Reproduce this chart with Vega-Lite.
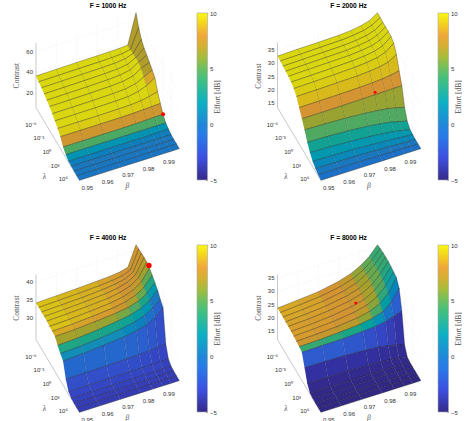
{"$schema":"https://vega.github.io/schema/vega-lite/v6.json","padding":{"left":0,"top":3,"right":0,"bottom":0},"background":"white","config":{"view":{"stroke":null},"text":{"font":"Liberation Sans","fontSize":6,"fill":"#333"},"title":{"font":"Liberation Sans","fontSize":6.7,"fontWeight":"bold","color":"#000","offset":2},"range":{"ramp":["#2f2577","#3330a2","#3546c5","#2e5bce","#256bcc","#1c78be","#128db7","#0b9bac","#12a294","#38a871","#5fa955","#90a535","#b99b2a","#d39431","#d7b71c","#dada0e"]},"axis":{"labelFont":"Liberation Sans","labelFontSize":6,"labelColor":"#333","titleFont":"Liberation Serif","titleFontSize":7.5,"titleFontWeight":"normal","titleColor":"#555","domain":false,"grid":false,"tickColor":"#666","tickSize":-2,"tickWidth":0.5,"labelPadding":4,"titleAngle":-90,"titlePadding":5}},
"data":{"values":[
{"F":1000,"b":0.95,"l":-10,"c":36.6,"e":9.9},{"F":1000,"b":0.96,"l":-10,"c":36.9,"e":9.9},{"F":1000,"b":0.97,"l":-10,"c":37.2,"e":9.9},{"F":1000,"b":0.98,"l":-10,"c":37.4,"e":9.9},{"F":1000,"b":0.986,"l":-10,"c":37.6,"e":9.9},{"F":1000,"b":0.991,"l":-10,"c":37.8,"e":9.9},{"F":1000,"b":0.995,"l":-10,"c":38.4,"e":6.8},{"F":1000,"b":0.999,"l":-10,"c":67,"e":6.8},
{"F":1000,"b":0.95,"l":-9,"c":35.3,"e":9.9},{"F":1000,"b":0.96,"l":-9,"c":35.5,"e":9.9},{"F":1000,"b":0.97,"l":-9,"c":35.8,"e":9.9},{"F":1000,"b":0.98,"l":-9,"c":36,"e":9.9},{"F":1000,"b":0.986,"l":-9,"c":36.3,"e":9.9},{"F":1000,"b":0.991,"l":-9,"c":37,"e":9.9},{"F":1000,"b":0.995,"l":-9,"c":38.5,"e":6.8},{"F":1000,"b":0.999,"l":-9,"c":57,"e":6.8},
{"F":1000,"b":0.95,"l":-8,"c":34,"e":9.9},{"F":1000,"b":0.96,"l":-8,"c":34.2,"e":9.9},{"F":1000,"b":0.97,"l":-8,"c":34.5,"e":9.9},{"F":1000,"b":0.98,"l":-8,"c":34.8,"e":9.9},{"F":1000,"b":0.986,"l":-8,"c":35.2,"e":9.9},{"F":1000,"b":0.991,"l":-8,"c":36.3,"e":9.9},{"F":1000,"b":0.995,"l":-8,"c":39,"e":6.8},{"F":1000,"b":0.999,"l":-8,"c":50,"e":6.8},
{"F":1000,"b":0.95,"l":-7,"c":32.5,"e":9.9},{"F":1000,"b":0.96,"l":-7,"c":32.7,"e":9.9},{"F":1000,"b":0.97,"l":-7,"c":33,"e":9.9},{"F":1000,"b":0.98,"l":-7,"c":33.4,"e":9.9},{"F":1000,"b":0.986,"l":-7,"c":34,"e":9.9},{"F":1000,"b":0.991,"l":-7,"c":35.5,"e":9.9},{"F":1000,"b":0.995,"l":-7,"c":39.5,"e":6.8},{"F":1000,"b":0.999,"l":-7,"c":46,"e":6.8},
{"F":1000,"b":0.95,"l":-6,"c":30.8,"e":9.9},{"F":1000,"b":0.96,"l":-6,"c":31,"e":9.9},{"F":1000,"b":0.97,"l":-6,"c":31.3,"e":9.9},{"F":1000,"b":0.98,"l":-6,"c":31.8,"e":9.9},{"F":1000,"b":0.986,"l":-6,"c":32.6,"e":9.9},{"F":1000,"b":0.991,"l":-6,"c":34.5,"e":9.9},{"F":1000,"b":0.995,"l":-6,"c":39.5,"e":6.8},{"F":1000,"b":0.999,"l":-6,"c":43.5,"e":6.8},
{"F":1000,"b":0.95,"l":-5,"c":29,"e":9.9},{"F":1000,"b":0.96,"l":-5,"c":29.2,"e":9.9},{"F":1000,"b":0.97,"l":-5,"c":29.5,"e":9.9},{"F":1000,"b":0.98,"l":-5,"c":30,"e":9.9},{"F":1000,"b":0.986,"l":-5,"c":30.8,"e":9.9},{"F":1000,"b":0.991,"l":-5,"c":33,"e":9.9},{"F":1000,"b":0.995,"l":-5,"c":38,"e":6.8},{"F":1000,"b":0.999,"l":-5,"c":41,"e":6.8},
{"F":1000,"b":0.95,"l":-4,"c":26.5,"e":9.9},{"F":1000,"b":0.96,"l":-4,"c":26.6,"e":9.9},{"F":1000,"b":0.97,"l":-4,"c":26.8,"e":9.9},{"F":1000,"b":0.98,"l":-4,"c":27.3,"e":9.9},{"F":1000,"b":0.986,"l":-4,"c":28,"e":9.9},{"F":1000,"b":0.991,"l":-4,"c":30,"e":9.9},{"F":1000,"b":0.995,"l":-4,"c":34,"e":8.5},{"F":1000,"b":0.999,"l":-4,"c":38,"e":8.5},
{"F":1000,"b":0.95,"l":-3,"c":24,"e":9.9},{"F":1000,"b":0.96,"l":-3,"c":24.1,"e":9.9},{"F":1000,"b":0.97,"l":-3,"c":24.2,"e":9.9},{"F":1000,"b":0.98,"l":-3,"c":24.5,"e":9.9},{"F":1000,"b":0.986,"l":-3,"c":25,"e":9.9},{"F":1000,"b":0.991,"l":-3,"c":27,"e":9.9},{"F":1000,"b":0.995,"l":-3,"c":30,"e":9.5},{"F":1000,"b":0.999,"l":-3,"c":35,"e":9.5},
{"F":1000,"b":0.95,"l":-2,"c":21,"e":9.6},{"F":1000,"b":0.96,"l":-2,"c":21,"e":9.6},{"F":1000,"b":0.97,"l":-2,"c":21,"e":9.6},{"F":1000,"b":0.98,"l":-2,"c":21.2,"e":9.6},{"F":1000,"b":0.986,"l":-2,"c":21.5,"e":9.6},{"F":1000,"b":0.991,"l":-2,"c":22.5,"e":9.6},{"F":1000,"b":0.995,"l":-2,"c":24,"e":9.6},{"F":1000,"b":0.999,"l":-2,"c":26,"e":9.6},
{"F":1000,"b":0.95,"l":-1,"c":17.5,"e":7.8},{"F":1000,"b":0.96,"l":-1,"c":17.5,"e":7.8},{"F":1000,"b":0.97,"l":-1,"c":17.5,"e":7.8},{"F":1000,"b":0.98,"l":-1,"c":17.6,"e":7.8},{"F":1000,"b":0.986,"l":-1,"c":17.8,"e":7.8},{"F":1000,"b":0.991,"l":-1,"c":18.2,"e":7.8},{"F":1000,"b":0.995,"l":-1,"c":18.6,"e":7.8},{"F":1000,"b":0.999,"l":-1,"c":19,"e":7.8},
{"F":1000,"b":0.95,"l":0,"c":12,"e":4.5},{"F":1000,"b":0.96,"l":0,"c":12,"e":4.5},{"F":1000,"b":0.97,"l":0,"c":12,"e":4.5},{"F":1000,"b":0.98,"l":0,"c":12,"e":4.5},{"F":1000,"b":0.986,"l":0,"c":12.2,"e":4.5},{"F":1000,"b":0.991,"l":0,"c":12.5,"e":4.5},{"F":1000,"b":0.995,"l":0,"c":12.8,"e":4.5},{"F":1000,"b":0.999,"l":0,"c":13,"e":4.5},
{"F":1000,"b":0.95,"l":1,"c":9,"e":1.5},{"F":1000,"b":0.96,"l":1,"c":9,"e":1.5},{"F":1000,"b":0.97,"l":1,"c":9,"e":1.5},{"F":1000,"b":0.98,"l":1,"c":9,"e":1.5},{"F":1000,"b":0.986,"l":1,"c":9,"e":1.5},{"F":1000,"b":0.991,"l":1,"c":9,"e":1.5},{"F":1000,"b":0.995,"l":1,"c":9,"e":1.5},{"F":1000,"b":0.999,"l":1,"c":9,"e":1.5},
{"F":1000,"b":0.95,"l":2,"c":7,"e":0.3},{"F":1000,"b":0.96,"l":2,"c":7,"e":0.3},{"F":1000,"b":0.97,"l":2,"c":7,"e":0.3},{"F":1000,"b":0.98,"l":2,"c":7,"e":0.3},{"F":1000,"b":0.986,"l":2,"c":7,"e":0.3},{"F":1000,"b":0.991,"l":2,"c":7.2,"e":0.3},{"F":1000,"b":0.995,"l":2,"c":7.3,"e":0.3},{"F":1000,"b":0.999,"l":2,"c":7.5,"e":0.3},
{"F":1000,"b":0.95,"l":3,"c":6.5,"e":0},{"F":1000,"b":0.96,"l":3,"c":6.5,"e":0},{"F":1000,"b":0.97,"l":3,"c":6.5,"e":0},{"F":1000,"b":0.98,"l":3,"c":6.5,"e":0},{"F":1000,"b":0.986,"l":3,"c":6.5,"e":0},{"F":1000,"b":0.991,"l":3,"c":6.5,"e":0},{"F":1000,"b":0.995,"l":3,"c":6.5,"e":0},{"F":1000,"b":0.999,"l":3,"c":6.5,"e":0},
{"F":1000,"b":0.95,"l":4,"c":6.3,"e":-0.2},{"F":1000,"b":0.96,"l":4,"c":6.3,"e":-0.2},{"F":1000,"b":0.97,"l":4,"c":6.3,"e":-0.2},{"F":1000,"b":0.98,"l":4,"c":6.3,"e":-0.2},{"F":1000,"b":0.986,"l":4,"c":6.3,"e":-0.2},{"F":1000,"b":0.991,"l":4,"c":6.3,"e":-0.2},{"F":1000,"b":0.995,"l":4,"c":6.3,"e":-0.2},{"F":1000,"b":0.999,"l":4,"c":6.3,"e":-0.2},
{"F":1000,"b":0.95,"l":5,"c":6.2,"e":-0.3},{"F":1000,"b":0.96,"l":5,"c":6.2,"e":-0.3},{"F":1000,"b":0.97,"l":5,"c":6.2,"e":-0.3},{"F":1000,"b":0.98,"l":5,"c":6.2,"e":-0.3},{"F":1000,"b":0.986,"l":5,"c":6.2,"e":-0.3},{"F":1000,"b":0.991,"l":5,"c":6.2,"e":-0.3},{"F":1000,"b":0.995,"l":5,"c":6.2,"e":-0.3},{"F":1000,"b":0.999,"l":5,"c":6.2,"e":-0.3},
{"F":1000,"b":0.95,"l":6,"c":6.2,"e":-0.3},{"F":1000,"b":0.96,"l":6,"c":6.2,"e":-0.3},{"F":1000,"b":0.97,"l":6,"c":6.2,"e":-0.3},{"F":1000,"b":0.98,"l":6,"c":6.2,"e":-0.3},{"F":1000,"b":0.986,"l":6,"c":6.2,"e":-0.3},{"F":1000,"b":0.991,"l":6,"c":6.2,"e":-0.3},{"F":1000,"b":0.995,"l":6,"c":6.2,"e":-0.3},{"F":1000,"b":0.999,"l":6,"c":6.2,"e":-0.3},
{"F":2000,"b":0.95,"l":-10,"c":32.8,"e":9.9},{"F":2000,"b":0.96,"l":-10,"c":33,"e":9.9},{"F":2000,"b":0.97,"l":-10,"c":33.1,"e":9.9},{"F":2000,"b":0.98,"l":-10,"c":33.3,"e":9.9},{"F":2000,"b":0.986,"l":-10,"c":33.7,"e":9.9},{"F":2000,"b":0.991,"l":-10,"c":34.3,"e":9.9},{"F":2000,"b":0.995,"l":-10,"c":35.2,"e":9.9},{"F":2000,"b":0.999,"l":-10,"c":37.2,"e":9.9},
{"F":2000,"b":0.95,"l":-9,"c":32.6,"e":9.9},{"F":2000,"b":0.96,"l":-9,"c":32.8,"e":9.9},{"F":2000,"b":0.97,"l":-9,"c":33,"e":9.9},{"F":2000,"b":0.98,"l":-9,"c":33.2,"e":9.9},{"F":2000,"b":0.986,"l":-9,"c":33.6,"e":9.9},{"F":2000,"b":0.991,"l":-9,"c":34.2,"e":9.9},{"F":2000,"b":0.995,"l":-9,"c":35.2,"e":9.9},{"F":2000,"b":0.999,"l":-9,"c":37.1,"e":9.9},
{"F":2000,"b":0.95,"l":-8,"c":32.4,"e":9.9},{"F":2000,"b":0.96,"l":-8,"c":32.6,"e":9.9},{"F":2000,"b":0.97,"l":-8,"c":32.8,"e":9.9},{"F":2000,"b":0.98,"l":-8,"c":33,"e":9.9},{"F":2000,"b":0.986,"l":-8,"c":33.4,"e":9.9},{"F":2000,"b":0.991,"l":-8,"c":34,"e":9.9},{"F":2000,"b":0.995,"l":-8,"c":35,"e":9.9},{"F":2000,"b":0.999,"l":-8,"c":37,"e":9.9},
{"F":2000,"b":0.95,"l":-7,"c":32.2,"e":9.9},{"F":2000,"b":0.96,"l":-7,"c":32.4,"e":9.9},{"F":2000,"b":0.97,"l":-7,"c":32.6,"e":9.9},{"F":2000,"b":0.98,"l":-7,"c":32.8,"e":9.9},{"F":2000,"b":0.986,"l":-7,"c":33.2,"e":9.9},{"F":2000,"b":0.991,"l":-7,"c":33.8,"e":9.9},{"F":2000,"b":0.995,"l":-7,"c":34.9,"e":9.9},{"F":2000,"b":0.999,"l":-7,"c":37,"e":9.9},
{"F":2000,"b":0.95,"l":-6,"c":32,"e":9.9},{"F":2000,"b":0.96,"l":-6,"c":32.2,"e":9.9},{"F":2000,"b":0.97,"l":-6,"c":32.4,"e":9.9},{"F":2000,"b":0.98,"l":-6,"c":32.6,"e":9.9},{"F":2000,"b":0.986,"l":-6,"c":33,"e":9.9},{"F":2000,"b":0.991,"l":-6,"c":33.6,"e":9.9},{"F":2000,"b":0.995,"l":-6,"c":34.7,"e":9.9},{"F":2000,"b":0.999,"l":-6,"c":37,"e":9.9},
{"F":2000,"b":0.95,"l":-5,"c":31.5,"e":9.8},{"F":2000,"b":0.96,"l":-5,"c":31.7,"e":9.8},{"F":2000,"b":0.97,"l":-5,"c":31.9,"e":9.8},{"F":2000,"b":0.98,"l":-5,"c":32.2,"e":9.8},{"F":2000,"b":0.986,"l":-5,"c":32.6,"e":9.8},{"F":2000,"b":0.991,"l":-5,"c":33.2,"e":9.8},{"F":2000,"b":0.995,"l":-5,"c":34.3,"e":9.8},{"F":2000,"b":0.999,"l":-5,"c":36.8,"e":9.8},
{"F":2000,"b":0.95,"l":-4,"c":30.8,"e":9.6},{"F":2000,"b":0.96,"l":-4,"c":31,"e":9.6},{"F":2000,"b":0.97,"l":-4,"c":31.2,"e":9.6},{"F":2000,"b":0.98,"l":-4,"c":31.5,"e":9.6},{"F":2000,"b":0.986,"l":-4,"c":31.9,"e":9.6},{"F":2000,"b":0.991,"l":-4,"c":32.5,"e":9.6},{"F":2000,"b":0.995,"l":-4,"c":33.6,"e":9.6},{"F":2000,"b":0.999,"l":-4,"c":36,"e":9.6},
{"F":2000,"b":0.95,"l":-3,"c":29.5,"e":9.1},{"F":2000,"b":0.96,"l":-3,"c":29.6,"e":9.1},{"F":2000,"b":0.97,"l":-3,"c":29.8,"e":9.1},{"F":2000,"b":0.98,"l":-3,"c":30,"e":9.1},{"F":2000,"b":0.986,"l":-3,"c":30.3,"e":9.1},{"F":2000,"b":0.991,"l":-3,"c":30.8,"e":9.1},{"F":2000,"b":0.995,"l":-3,"c":31.5,"e":9.1},{"F":2000,"b":0.999,"l":-3,"c":33.4,"e":9.1},
{"F":2000,"b":0.95,"l":-2,"c":27,"e":8},{"F":2000,"b":0.96,"l":-2,"c":27.1,"e":8},{"F":2000,"b":0.97,"l":-2,"c":27.2,"e":8},{"F":2000,"b":0.98,"l":-2,"c":27.4,"e":8},{"F":2000,"b":0.986,"l":-2,"c":27.6,"e":8},{"F":2000,"b":0.991,"l":-2,"c":27.9,"e":8},{"F":2000,"b":0.995,"l":-2,"c":28.3,"e":8},{"F":2000,"b":0.999,"l":-2,"c":29,"e":8},
{"F":2000,"b":0.95,"l":-1,"c":24.5,"e":6.2},{"F":2000,"b":0.96,"l":-1,"c":24.5,"e":6.2},{"F":2000,"b":0.97,"l":-1,"c":24.6,"e":6.2},{"F":2000,"b":0.98,"l":-1,"c":24.7,"e":6.2},{"F":2000,"b":0.986,"l":-1,"c":24.8,"e":6.2},{"F":2000,"b":0.991,"l":-1,"c":24.9,"e":6.2},{"F":2000,"b":0.995,"l":-1,"c":25,"e":6.2},{"F":2000,"b":0.999,"l":-1,"c":25,"e":6.2},
{"F":2000,"b":0.95,"l":0,"c":22,"e":4.6},{"F":2000,"b":0.96,"l":0,"c":21.8,"e":4.6},{"F":2000,"b":0.97,"l":0,"c":21.5,"e":4.6},{"F":2000,"b":0.98,"l":0,"c":21,"e":4.6},{"F":2000,"b":0.986,"l":0,"c":20.5,"e":4.6},{"F":2000,"b":0.991,"l":0,"c":20,"e":4.6},{"F":2000,"b":0.995,"l":0,"c":19.3,"e":4.6},{"F":2000,"b":0.999,"l":0,"c":18.5,"e":4.6},
{"F":2000,"b":0.95,"l":1,"c":19,"e":3},{"F":2000,"b":0.96,"l":1,"c":18.8,"e":3},{"F":2000,"b":0.97,"l":1,"c":18.4,"e":3},{"F":2000,"b":0.98,"l":1,"c":17.8,"e":3},{"F":2000,"b":0.986,"l":1,"c":17.2,"e":3},{"F":2000,"b":0.991,"l":1,"c":16.6,"e":3},{"F":2000,"b":0.995,"l":1,"c":15.8,"e":3},{"F":2000,"b":0.999,"l":1,"c":15,"e":3},
{"F":2000,"b":0.95,"l":2,"c":16.8,"e":1.8},{"F":2000,"b":0.96,"l":2,"c":16.6,"e":1.8},{"F":2000,"b":0.97,"l":2,"c":16.2,"e":1.8},{"F":2000,"b":0.98,"l":2,"c":15.6,"e":1.8},{"F":2000,"b":0.986,"l":2,"c":15.2,"e":1.8},{"F":2000,"b":0.991,"l":2,"c":14.7,"e":1.8},{"F":2000,"b":0.995,"l":2,"c":14.1,"e":1.8},{"F":2000,"b":0.999,"l":2,"c":13.6,"e":1.8},
{"F":2000,"b":0.95,"l":3,"c":15.2,"e":0.8},{"F":2000,"b":0.96,"l":3,"c":15,"e":0.8},{"F":2000,"b":0.97,"l":3,"c":14.8,"e":0.8},{"F":2000,"b":0.98,"l":3,"c":14.4,"e":0.8},{"F":2000,"b":0.986,"l":3,"c":14.1,"e":0.8},{"F":2000,"b":0.991,"l":3,"c":13.8,"e":0.8},{"F":2000,"b":0.995,"l":3,"c":13.5,"e":0.8},{"F":2000,"b":0.999,"l":3,"c":13.4,"e":0.8},
{"F":2000,"b":0.95,"l":4,"c":14.2,"e":0},{"F":2000,"b":0.96,"l":4,"c":14.1,"e":0},{"F":2000,"b":0.97,"l":4,"c":14,"e":0},{"F":2000,"b":0.98,"l":4,"c":13.8,"e":0},{"F":2000,"b":0.986,"l":4,"c":13.6,"e":0},{"F":2000,"b":0.991,"l":4,"c":13.4,"e":0},{"F":2000,"b":0.995,"l":4,"c":13.3,"e":0},{"F":2000,"b":0.999,"l":4,"c":13.2,"e":0},
{"F":2000,"b":0.95,"l":5,"c":13.6,"e":-0.6},{"F":2000,"b":0.96,"l":5,"c":13.6,"e":-0.6},{"F":2000,"b":0.97,"l":5,"c":13.5,"e":-0.6},{"F":2000,"b":0.98,"l":5,"c":13.4,"e":-0.6},{"F":2000,"b":0.986,"l":5,"c":13.3,"e":-0.6},{"F":2000,"b":0.991,"l":5,"c":13.3,"e":-0.6},{"F":2000,"b":0.995,"l":5,"c":13.2,"e":-0.6},{"F":2000,"b":0.999,"l":5,"c":13.2,"e":-0.6},
{"F":2000,"b":0.95,"l":6,"c":13.2,"e":-1},{"F":2000,"b":0.96,"l":6,"c":13.2,"e":-1},{"F":2000,"b":0.97,"l":6,"c":13.2,"e":-1},{"F":2000,"b":0.98,"l":6,"c":13.2,"e":-1},{"F":2000,"b":0.986,"l":6,"c":13.2,"e":-1},{"F":2000,"b":0.991,"l":6,"c":13.2,"e":-1},{"F":2000,"b":0.995,"l":6,"c":13.2,"e":-1},{"F":2000,"b":0.999,"l":6,"c":13.2,"e":-1},
{"F":4000,"b":0.95,"l":-10,"c":34.2,"e":9.3},{"F":4000,"b":0.96,"l":-10,"c":34.4,"e":9},{"F":4000,"b":0.97,"l":-10,"c":34.6,"e":8.8},{"F":4000,"b":0.98,"l":-10,"c":34.9,"e":8.4},{"F":4000,"b":0.986,"l":-10,"c":35.1,"e":8.2},{"F":4000,"b":0.991,"l":-10,"c":35.4,"e":8},{"F":4000,"b":0.995,"l":-10,"c":36,"e":7.8},{"F":4000,"b":0.999,"l":-10,"c":41.5,"e":7.5},
{"F":4000,"b":0.95,"l":-9,"c":34.2,"e":9.3},{"F":4000,"b":0.96,"l":-9,"c":34.4,"e":9},{"F":4000,"b":0.97,"l":-9,"c":34.6,"e":8.8},{"F":4000,"b":0.98,"l":-9,"c":34.9,"e":8.4},{"F":4000,"b":0.986,"l":-9,"c":35.2,"e":8.2},{"F":4000,"b":0.991,"l":-9,"c":35.6,"e":8},{"F":4000,"b":0.995,"l":-9,"c":36.5,"e":7.7},{"F":4000,"b":0.999,"l":-9,"c":41.6,"e":7.5},
{"F":4000,"b":0.95,"l":-8,"c":34.2,"e":9.3},{"F":4000,"b":0.96,"l":-8,"c":34.4,"e":9},{"F":4000,"b":0.97,"l":-8,"c":34.6,"e":8.8},{"F":4000,"b":0.98,"l":-8,"c":35,"e":8.4},{"F":4000,"b":0.986,"l":-8,"c":35.4,"e":8.1},{"F":4000,"b":0.991,"l":-8,"c":36,"e":7.9},{"F":4000,"b":0.995,"l":-8,"c":37.2,"e":7.5},{"F":4000,"b":0.999,"l":-8,"c":41.7,"e":7.2},
{"F":4000,"b":0.95,"l":-7,"c":34.2,"e":9.3},{"F":4000,"b":0.96,"l":-7,"c":34.4,"e":9},{"F":4000,"b":0.97,"l":-7,"c":34.7,"e":8.8},{"F":4000,"b":0.98,"l":-7,"c":35.1,"e":8.4},{"F":4000,"b":0.986,"l":-7,"c":35.6,"e":8},{"F":4000,"b":0.991,"l":-7,"c":36.4,"e":7.7},{"F":4000,"b":0.995,"l":-7,"c":37.8,"e":7},{"F":4000,"b":0.999,"l":-7,"c":41.8,"e":6.8},
{"F":4000,"b":0.95,"l":-6,"c":34.2,"e":9.3},{"F":4000,"b":0.96,"l":-6,"c":34.4,"e":9},{"F":4000,"b":0.97,"l":-6,"c":34.7,"e":8.8},{"F":4000,"b":0.98,"l":-6,"c":35.1,"e":8.4},{"F":4000,"b":0.986,"l":-6,"c":35.7,"e":7.9},{"F":4000,"b":0.991,"l":-6,"c":36.6,"e":7.4},{"F":4000,"b":0.995,"l":-6,"c":38.2,"e":6.3},{"F":4000,"b":0.999,"l":-6,"c":41.7,"e":6},
{"F":4000,"b":0.95,"l":-5,"c":34,"e":9.3},{"F":4000,"b":0.96,"l":-5,"c":34.2,"e":9},{"F":4000,"b":0.97,"l":-5,"c":34.6,"e":8.7},{"F":4000,"b":0.98,"l":-5,"c":35.1,"e":8.2},{"F":4000,"b":0.986,"l":-5,"c":35.7,"e":7.5},{"F":4000,"b":0.991,"l":-5,"c":36.7,"e":6.6},{"F":4000,"b":0.995,"l":-5,"c":38.2,"e":5},{"F":4000,"b":0.999,"l":-5,"c":41.3,"e":4.5},
{"F":4000,"b":0.95,"l":-4,"c":33.9,"e":8.6},{"F":4000,"b":0.96,"l":-4,"c":34.1,"e":8.4},{"F":4000,"b":0.97,"l":-4,"c":34.5,"e":8.2},{"F":4000,"b":0.98,"l":-4,"c":35,"e":7.6},{"F":4000,"b":0.986,"l":-4,"c":35.6,"e":6.6},{"F":4000,"b":0.991,"l":-4,"c":36.6,"e":5.2},{"F":4000,"b":0.995,"l":-4,"c":38,"e":3.5},{"F":4000,"b":0.999,"l":-4,"c":40.6,"e":3},
{"F":4000,"b":0.95,"l":-3,"c":33.7,"e":6.5},{"F":4000,"b":0.96,"l":-3,"c":33.9,"e":6.4},{"F":4000,"b":0.97,"l":-3,"c":34.3,"e":6.2},{"F":4000,"b":0.98,"l":-3,"c":34.8,"e":5.5},{"F":4000,"b":0.986,"l":-3,"c":35.3,"e":4.6},{"F":4000,"b":0.991,"l":-3,"c":36.2,"e":3.4},{"F":4000,"b":0.995,"l":-3,"c":37.5,"e":1.8},{"F":4000,"b":0.999,"l":-3,"c":39.8,"e":1.5},
{"F":4000,"b":0.95,"l":-2,"c":32.5,"e":3.5},{"F":4000,"b":0.96,"l":-2,"c":32.8,"e":3.4},{"F":4000,"b":0.97,"l":-2,"c":33.3,"e":3.3},{"F":4000,"b":0.98,"l":-2,"c":34,"e":3},{"F":4000,"b":0.986,"l":-2,"c":34.6,"e":2.4},{"F":4000,"b":0.991,"l":-2,"c":35.5,"e":1.4},{"F":4000,"b":0.995,"l":-2,"c":36.8,"e":0},{"F":4000,"b":0.999,"l":-2,"c":39,"e":0},
{"F":4000,"b":0.95,"l":-1,"c":31.5,"e":1},{"F":4000,"b":0.96,"l":-1,"c":31.8,"e":1},{"F":4000,"b":0.97,"l":-1,"c":32.3,"e":1},{"F":4000,"b":0.98,"l":-1,"c":33,"e":0.8},{"F":4000,"b":0.986,"l":-1,"c":33.7,"e":0.3},{"F":4000,"b":0.991,"l":-1,"c":34.6,"e":-0.6},{"F":4000,"b":0.995,"l":-1,"c":35.8,"e":-1.5},{"F":4000,"b":0.999,"l":-1,"c":37.7,"e":-1.6},
{"F":4000,"b":0.95,"l":0,"c":30.7,"e":-1.2},{"F":4000,"b":0.96,"l":0,"c":31,"e":-1.2},{"F":4000,"b":0.97,"l":0,"c":31.5,"e":-1.2},{"F":4000,"b":0.98,"l":0,"c":32,"e":-1.4},{"F":4000,"b":0.986,"l":0,"c":32.6,"e":-1.8},{"F":4000,"b":0.991,"l":0,"c":33.4,"e":-2.2},{"F":4000,"b":0.995,"l":0,"c":34.5,"e":-2.6},{"F":4000,"b":0.999,"l":0,"c":36.7,"e":-2.6},
{"F":4000,"b":0.95,"l":1,"c":27,"e":-2.6},{"F":4000,"b":0.96,"l":1,"c":27,"e":-2.6},{"F":4000,"b":0.97,"l":1,"c":27.1,"e":-2.6},{"F":4000,"b":0.98,"l":1,"c":27.2,"e":-2.7},{"F":4000,"b":0.986,"l":1,"c":27.3,"e":-2.8},{"F":4000,"b":0.991,"l":1,"c":27.5,"e":-3},{"F":4000,"b":0.995,"l":1,"c":27.8,"e":-3.1},{"F":4000,"b":0.999,"l":1,"c":28,"e":-3.1},
{"F":4000,"b":0.95,"l":2,"c":24.8,"e":-3},{"F":4000,"b":0.96,"l":2,"c":24.8,"e":-3},{"F":4000,"b":0.97,"l":2,"c":24.8,"e":-3},{"F":4000,"b":0.98,"l":2,"c":24.9,"e":-3},{"F":4000,"b":0.986,"l":2,"c":24.9,"e":-3.1},{"F":4000,"b":0.991,"l":2,"c":24.9,"e":-3.1},{"F":4000,"b":0.995,"l":2,"c":25,"e":-3.2},{"F":4000,"b":0.999,"l":2,"c":25,"e":-3.2},
{"F":4000,"b":0.95,"l":3,"c":24.2,"e":-3.2},{"F":4000,"b":0.96,"l":3,"c":24.2,"e":-3.2},{"F":4000,"b":0.97,"l":3,"c":24.2,"e":-3.2},{"F":4000,"b":0.98,"l":3,"c":24.2,"e":-3.2},{"F":4000,"b":0.986,"l":3,"c":24.2,"e":-3.2},{"F":4000,"b":0.991,"l":3,"c":24.2,"e":-3.3},{"F":4000,"b":0.995,"l":3,"c":24.3,"e":-3.3},{"F":4000,"b":0.999,"l":3,"c":24.3,"e":-3.3},
{"F":4000,"b":0.95,"l":4,"c":24.1,"e":-3.4},{"F":4000,"b":0.96,"l":4,"c":24.1,"e":-3.4},{"F":4000,"b":0.97,"l":4,"c":24.1,"e":-3.4},{"F":4000,"b":0.98,"l":4,"c":24.1,"e":-3.4},{"F":4000,"b":0.986,"l":4,"c":24.1,"e":-3.4},{"F":4000,"b":0.991,"l":4,"c":24.1,"e":-3.4},{"F":4000,"b":0.995,"l":4,"c":24.2,"e":-3.4},{"F":4000,"b":0.999,"l":4,"c":24.2,"e":-3.4},
{"F":4000,"b":0.95,"l":5,"c":24.1,"e":-3.5},{"F":4000,"b":0.96,"l":5,"c":24.1,"e":-3.5},{"F":4000,"b":0.97,"l":5,"c":24.1,"e":-3.5},{"F":4000,"b":0.98,"l":5,"c":24.1,"e":-3.5},{"F":4000,"b":0.986,"l":5,"c":24.1,"e":-3.5},{"F":4000,"b":0.991,"l":5,"c":24.1,"e":-3.5},{"F":4000,"b":0.995,"l":5,"c":24.1,"e":-3.5},{"F":4000,"b":0.999,"l":5,"c":24.1,"e":-3.5},
{"F":4000,"b":0.95,"l":6,"c":24.1,"e":-3.5},{"F":4000,"b":0.96,"l":6,"c":24.1,"e":-3.5},{"F":4000,"b":0.97,"l":6,"c":24.1,"e":-3.5},{"F":4000,"b":0.98,"l":6,"c":24.1,"e":-3.5},{"F":4000,"b":0.986,"l":6,"c":24.1,"e":-3.5},{"F":4000,"b":0.991,"l":6,"c":24.1,"e":-3.5},{"F":4000,"b":0.995,"l":6,"c":24.1,"e":-3.5},{"F":4000,"b":0.999,"l":6,"c":24.1,"e":-3.5},
{"F":8000,"b":0.95,"l":-10,"c":23.7,"e":8.6},{"F":8000,"b":0.96,"l":-10,"c":24.3,"e":8.4},{"F":8000,"b":0.97,"l":-10,"c":25,"e":8},{"F":8000,"b":0.98,"l":-10,"c":26.5,"e":7.3},{"F":8000,"b":0.986,"l":-10,"c":28,"e":6},{"F":8000,"b":0.991,"l":-10,"c":30,"e":5},{"F":8000,"b":0.995,"l":-10,"c":32.3,"e":4},{"F":8000,"b":0.999,"l":-10,"c":35.7,"e":3},
{"F":8000,"b":0.95,"l":-9,"c":23.7,"e":8.6},{"F":8000,"b":0.96,"l":-9,"c":24.3,"e":8.4},{"F":8000,"b":0.97,"l":-9,"c":25,"e":8},{"F":8000,"b":0.98,"l":-9,"c":26.4,"e":7.4},{"F":8000,"b":0.986,"l":-9,"c":27.9,"e":6.2},{"F":8000,"b":0.991,"l":-9,"c":30,"e":5},{"F":8000,"b":0.995,"l":-9,"c":32.5,"e":4},{"F":8000,"b":0.999,"l":-9,"c":36,"e":3},
{"F":8000,"b":0.95,"l":-8,"c":23.7,"e":8.5},{"F":8000,"b":0.96,"l":-8,"c":24.2,"e":8.4},{"F":8000,"b":0.97,"l":-8,"c":24.9,"e":8.1},{"F":8000,"b":0.98,"l":-8,"c":26.3,"e":7.5},{"F":8000,"b":0.986,"l":-8,"c":27.8,"e":6.4},{"F":8000,"b":0.991,"l":-8,"c":30,"e":5.2},{"F":8000,"b":0.995,"l":-8,"c":32.6,"e":4},{"F":8000,"b":0.999,"l":-8,"c":36.2,"e":2.8},
{"F":8000,"b":0.95,"l":-7,"c":23.6,"e":8.4},{"F":8000,"b":0.96,"l":-7,"c":24.1,"e":8.3},{"F":8000,"b":0.97,"l":-7,"c":24.8,"e":8.1},{"F":8000,"b":0.98,"l":-7,"c":26.1,"e":7.6},{"F":8000,"b":0.986,"l":-7,"c":27.5,"e":6.6},{"F":8000,"b":0.991,"l":-7,"c":29.8,"e":5.2},{"F":8000,"b":0.995,"l":-7,"c":32.6,"e":3.9},{"F":8000,"b":0.999,"l":-7,"c":36.3,"e":2.6},
{"F":8000,"b":0.95,"l":-6,"c":23.6,"e":8.3},{"F":8000,"b":0.96,"l":-6,"c":24,"e":8.2},{"F":8000,"b":0.97,"l":-6,"c":24.7,"e":8.1},{"F":8000,"b":0.98,"l":-6,"c":25.9,"e":7.7},{"F":8000,"b":0.986,"l":-6,"c":27.2,"e":6.6},{"F":8000,"b":0.991,"l":-6,"c":29.4,"e":5},{"F":8000,"b":0.995,"l":-6,"c":32.4,"e":3.6},{"F":8000,"b":0.999,"l":-6,"c":36.3,"e":2.2},
{"F":8000,"b":0.95,"l":-5,"c":23.4,"e":8.3},{"F":8000,"b":0.96,"l":-5,"c":23.8,"e":8.2},{"F":8000,"b":0.97,"l":-5,"c":24.4,"e":8},{"F":8000,"b":0.98,"l":-5,"c":25.6,"e":7.6},{"F":8000,"b":0.986,"l":-5,"c":26.8,"e":6.4},{"F":8000,"b":0.991,"l":-5,"c":29,"e":4.6},{"F":8000,"b":0.995,"l":-5,"c":32,"e":3},{"F":8000,"b":0.999,"l":-5,"c":36,"e":1.5},
{"F":8000,"b":0.95,"l":-4,"c":23.3,"e":8.2},{"F":8000,"b":0.96,"l":-4,"c":23.7,"e":8.1},{"F":8000,"b":0.97,"l":-4,"c":24.2,"e":7.9},{"F":8000,"b":0.98,"l":-4,"c":25.2,"e":7.2},{"F":8000,"b":0.986,"l":-4,"c":26.4,"e":5.8},{"F":8000,"b":0.991,"l":-4,"c":28.4,"e":3.8},{"F":8000,"b":0.995,"l":-4,"c":31.4,"e":2},{"F":8000,"b":0.999,"l":-4,"c":35.7,"e":0.6},
{"F":8000,"b":0.95,"l":-3,"c":23.1,"e":7.6},{"F":8000,"b":0.96,"l":-3,"c":23.4,"e":7.4},{"F":8000,"b":0.97,"l":-3,"c":23.8,"e":7},{"F":8000,"b":0.98,"l":-3,"c":24.7,"e":6},{"F":8000,"b":0.986,"l":-3,"c":25.7,"e":4.4},{"F":8000,"b":0.991,"l":-3,"c":27.5,"e":2.4},{"F":8000,"b":0.995,"l":-3,"c":30.4,"e":0.6},{"F":8000,"b":0.999,"l":-3,"c":35.3,"e":-0.6},
{"F":8000,"b":0.95,"l":-2,"c":22.8,"e":4},{"F":8000,"b":0.96,"l":-2,"c":23,"e":3.8},{"F":8000,"b":0.97,"l":-2,"c":23.4,"e":3.4},{"F":8000,"b":0.98,"l":-2,"c":24,"e":2.6},{"F":8000,"b":0.986,"l":-2,"c":24.8,"e":1.2},{"F":8000,"b":0.991,"l":-2,"c":26,"e":-0.4},{"F":8000,"b":0.995,"l":-2,"c":28.5,"e":-1.8},{"F":8000,"b":0.999,"l":-2,"c":33,"e":-2.4},
{"F":8000,"b":0.95,"l":-1,"c":22.4,"e":-2},{"F":8000,"b":0.96,"l":-1,"c":22.5,"e":-2},{"F":8000,"b":0.97,"l":-1,"c":22.6,"e":-2.2},{"F":8000,"b":0.98,"l":-1,"c":23,"e":-2.6},{"F":8000,"b":0.986,"l":-1,"c":23.3,"e":-3},{"F":8000,"b":0.991,"l":-1,"c":24,"e":-3.4},{"F":8000,"b":0.995,"l":-1,"c":25,"e":-3.8},{"F":8000,"b":0.999,"l":-1,"c":26,"e":-4},
{"F":8000,"b":0.95,"l":0,"c":18.3,"e":-4},{"F":8000,"b":0.96,"l":0,"c":18.2,"e":-4},{"F":8000,"b":0.97,"l":0,"c":18,"e":-4},{"F":8000,"b":0.98,"l":0,"c":17.6,"e":-4.1},{"F":8000,"b":0.986,"l":0,"c":17.2,"e":-4.2},{"F":8000,"b":0.991,"l":0,"c":16.6,"e":-4.3},{"F":8000,"b":0.995,"l":0,"c":15.8,"e":-4.4},{"F":8000,"b":0.999,"l":0,"c":15,"e":-4.4},
{"F":8000,"b":0.95,"l":1,"c":14,"e":-4.5},{"F":8000,"b":0.96,"l":1,"c":14,"e":-4.5},{"F":8000,"b":0.97,"l":1,"c":13.8,"e":-4.5},{"F":8000,"b":0.98,"l":1,"c":13.6,"e":-4.5},{"F":8000,"b":0.986,"l":1,"c":13.4,"e":-4.5},{"F":8000,"b":0.991,"l":1,"c":13,"e":-4.5},{"F":8000,"b":0.995,"l":1,"c":12.5,"e":-4.5},{"F":8000,"b":0.999,"l":1,"c":12,"e":-4.5},
{"F":8000,"b":0.95,"l":2,"c":12,"e":-4.6},{"F":8000,"b":0.96,"l":2,"c":12,"e":-4.6},{"F":8000,"b":0.97,"l":2,"c":12,"e":-4.6},{"F":8000,"b":0.98,"l":2,"c":12,"e":-4.6},{"F":8000,"b":0.986,"l":2,"c":11.9,"e":-4.6},{"F":8000,"b":0.991,"l":2,"c":11.9,"e":-4.6},{"F":8000,"b":0.995,"l":2,"c":11.8,"e":-4.6},{"F":8000,"b":0.999,"l":2,"c":11.8,"e":-4.6},
{"F":8000,"b":0.95,"l":3,"c":11.8,"e":-4.6},{"F":8000,"b":0.96,"l":3,"c":11.8,"e":-4.6},{"F":8000,"b":0.97,"l":3,"c":11.8,"e":-4.6},{"F":8000,"b":0.98,"l":3,"c":11.8,"e":-4.6},{"F":8000,"b":0.986,"l":3,"c":11.8,"e":-4.6},{"F":8000,"b":0.991,"l":3,"c":11.8,"e":-4.6},{"F":8000,"b":0.995,"l":3,"c":11.7,"e":-4.6},{"F":8000,"b":0.999,"l":3,"c":11.7,"e":-4.6},
{"F":8000,"b":0.95,"l":4,"c":11.7,"e":-4.7},{"F":8000,"b":0.96,"l":4,"c":11.7,"e":-4.7},{"F":8000,"b":0.97,"l":4,"c":11.7,"e":-4.7},{"F":8000,"b":0.98,"l":4,"c":11.7,"e":-4.7},{"F":8000,"b":0.986,"l":4,"c":11.7,"e":-4.7},{"F":8000,"b":0.991,"l":4,"c":11.7,"e":-4.7},{"F":8000,"b":0.995,"l":4,"c":11.7,"e":-4.7},{"F":8000,"b":0.999,"l":4,"c":11.7,"e":-4.7},
{"F":8000,"b":0.95,"l":5,"c":11.7,"e":-4.7},{"F":8000,"b":0.96,"l":5,"c":11.7,"e":-4.7},{"F":8000,"b":0.97,"l":5,"c":11.7,"e":-4.7},{"F":8000,"b":0.98,"l":5,"c":11.7,"e":-4.7},{"F":8000,"b":0.986,"l":5,"c":11.7,"e":-4.7},{"F":8000,"b":0.991,"l":5,"c":11.7,"e":-4.7},{"F":8000,"b":0.995,"l":5,"c":11.7,"e":-4.7},{"F":8000,"b":0.999,"l":5,"c":11.7,"e":-4.7},
{"F":8000,"b":0.95,"l":6,"c":11.7,"e":-4.7},{"F":8000,"b":0.96,"l":6,"c":11.7,"e":-4.7},{"F":8000,"b":0.97,"l":6,"c":11.7,"e":-4.7},{"F":8000,"b":0.98,"l":6,"c":11.7,"e":-4.7},{"F":8000,"b":0.986,"l":6,"c":11.7,"e":-4.7},{"F":8000,"b":0.991,"l":6,"c":11.7,"e":-4.7},{"F":8000,"b":0.995,"l":6,"c":11.7,"e":-4.7},{"F":8000,"b":0.999,"l":6,"c":11.7,"e":-4.7},
{"F":1000,"kind":"d","b":0.999,"l":0,"c":13},{"F":2000,"kind":"d","b":0.986,"l":-1.1,"c":25.6},{"F":4000,"kind":"d","b":0.999,"l":-5.2,"c":41.8},{"F":8000,"kind":"d","b":0.982,"l":-5.2,"c":26},
{"F":1000,"kind":"b","b":0.95,"l":6,"c":6.2,"t":"0.95"},{"F":1000,"kind":"b","b":0.96,"l":6,"c":6.2,"t":"0.96"},{"F":1000,"kind":"b","b":0.97,"l":6,"c":6.2,"t":"0.97"},{"F":1000,"kind":"b","b":0.98,"l":6,"c":6.2,"t":"0.98"},{"F":1000,"kind":"b","b":0.99,"l":6,"c":6.2,"t":"0.99"},
{"F":2000,"kind":"b","b":0.95,"l":6,"c":13.2,"t":"0.95"},{"F":2000,"kind":"b","b":0.96,"l":6,"c":13.2,"t":"0.96"},{"F":2000,"kind":"b","b":0.97,"l":6,"c":13.2,"t":"0.97"},{"F":2000,"kind":"b","b":0.98,"l":6,"c":13.2,"t":"0.98"},{"F":2000,"kind":"b","b":0.99,"l":6,"c":13.2,"t":"0.99"},
{"F":4000,"kind":"b","b":0.95,"l":6,"c":24.1,"t":"0.95"},{"F":4000,"kind":"b","b":0.96,"l":6,"c":24.1,"t":"0.96"},{"F":4000,"kind":"b","b":0.97,"l":6,"c":24.1,"t":"0.97"},{"F":4000,"kind":"b","b":0.98,"l":6,"c":24.1,"t":"0.98"},{"F":4000,"kind":"b","b":0.99,"l":6,"c":24.1,"t":"0.99"},
{"F":8000,"kind":"b","b":0.95,"l":6,"c":11.7,"t":"0.95"},{"F":8000,"kind":"b","b":0.96,"l":6,"c":11.7,"t":"0.96"},{"F":8000,"kind":"b","b":0.97,"l":6,"c":11.7,"t":"0.97"},{"F":8000,"kind":"b","b":0.98,"l":6,"c":11.7,"t":"0.98"},{"F":8000,"kind":"b","b":0.99,"l":6,"c":11.7,"t":"0.99"},
{"F":1000,"kind":"l","b":0.95,"l":-6,"c":6.2,"t":"10⁻⁶"},{"F":1000,"kind":"l","b":0.95,"l":-3,"c":6.2,"t":"10⁻³"},{"F":1000,"kind":"l","b":0.95,"l":0,"c":6.2,"t":"10⁰"},{"F":1000,"kind":"l","b":0.95,"l":3,"c":6.2,"t":"10³"},{"F":1000,"kind":"l","b":0.95,"l":6,"c":6.2,"t":"10⁶"},
{"F":2000,"kind":"l","b":0.95,"l":-6,"c":13.2,"t":"10⁻⁶"},{"F":2000,"kind":"l","b":0.95,"l":-3,"c":13.2,"t":"10⁻³"},{"F":2000,"kind":"l","b":0.95,"l":0,"c":13.2,"t":"10⁰"},{"F":2000,"kind":"l","b":0.95,"l":3,"c":13.2,"t":"10³"},{"F":2000,"kind":"l","b":0.95,"l":6,"c":13.2,"t":"10⁶"},
{"F":4000,"kind":"l","b":0.95,"l":-6,"c":24.1,"t":"10⁻⁶"},{"F":4000,"kind":"l","b":0.95,"l":-3,"c":24.1,"t":"10⁻³"},{"F":4000,"kind":"l","b":0.95,"l":0,"c":24.1,"t":"10⁰"},{"F":4000,"kind":"l","b":0.95,"l":3,"c":24.1,"t":"10³"},{"F":4000,"kind":"l","b":0.95,"l":6,"c":24.1,"t":"10⁶"},
{"F":8000,"kind":"l","b":0.95,"l":-6,"c":11.7,"t":"10⁻⁶"},{"F":8000,"kind":"l","b":0.95,"l":-3,"c":11.7,"t":"10⁻³"},{"F":8000,"kind":"l","b":0.95,"l":0,"c":11.7,"t":"10⁰"},{"F":8000,"kind":"l","b":0.95,"l":3,"c":11.7,"t":"10³"},{"F":8000,"kind":"l","b":0.95,"l":6,"c":11.7,"t":"10⁶"},
{"F":1000,"kind":"z","b":0.95,"l":-10,"c":20,"t":"20"},{"F":1000,"kind":"z","b":0.95,"l":-10,"c":40,"t":"40"},{"F":1000,"kind":"z","b":0.95,"l":-10,"c":60,"t":"60"},
{"F":2000,"kind":"z","b":0.95,"l":-10,"c":15,"t":"15"},{"F":2000,"kind":"z","b":0.95,"l":-10,"c":20,"t":"20"},{"F":2000,"kind":"z","b":0.95,"l":-10,"c":25,"t":"25"},{"F":2000,"kind":"z","b":0.95,"l":-10,"c":30,"t":"30"},{"F":2000,"kind":"z","b":0.95,"l":-10,"c":35,"t":"35"},
{"F":4000,"kind":"z","b":0.95,"l":-10,"c":30,"t":"30"},{"F":4000,"kind":"z","b":0.95,"l":-10,"c":35,"t":"35"},{"F":4000,"kind":"z","b":0.95,"l":-10,"c":40,"t":"40"},
{"F":8000,"kind":"z","b":0.95,"l":-10,"c":15,"t":"15"},{"F":8000,"kind":"z","b":0.95,"l":-10,"c":20,"t":"20"},{"F":8000,"kind":"z","b":0.95,"l":-10,"c":25,"t":"25"},{"F":8000,"kind":"z","b":0.95,"l":-10,"c":30,"t":"30"},{"F":8000,"kind":"z","b":0.95,"l":-10,"c":35,"t":"35"},
{"F":1000,"kind":"tc","b":0.95,"l":-10,"c":36.9,"t":"Contrast"},{"F":2000,"kind":"tc","b":0.95,"l":-10,"c":25.2,"t":"Contrast"},{"F":4000,"kind":"tc","b":0.95,"l":-10,"c":32.8,"t":"Contrast"},{"F":8000,"kind":"tc","b":0.95,"l":-10,"c":23.7,"t":"Contrast"},
{"F":1000,"kind":"tl","b":0.95,"l":6,"c":6.2,"t":"λ"},{"F":2000,"kind":"tl","b":0.95,"l":6,"c":13.2,"t":"λ"},{"F":4000,"kind":"tl","b":0.95,"l":6,"c":24.1,"t":"λ"},{"F":8000,"kind":"tl","b":0.95,"l":6,"c":11.7,"t":"λ"},
{"F":1000,"kind":"tb","b":0.9745,"l":6,"c":6.2,"t":"β"},{"F":2000,"kind":"tb","b":0.9745,"l":6,"c":13.2,"t":"β"},{"F":4000,"kind":"tb","b":0.9745,"l":6,"c":24.1,"t":"β"},{"F":8000,"kind":"tb","b":0.9745,"l":6,"c":11.7,"t":"β"},
{"F":1000,"kind":"e","b":0.95,"l":6,"c":6.2,"b2":0.95,"l2":-10,"c2":6.2},{"F":1000,"kind":"e","b":0.95,"l":6,"c":6.2,"b2":0.999,"l2":6,"c2":6.2},{"F":1000,"kind":"e","b":0.95,"l":-10,"c":6.2,"b2":0.95,"l2":-10,"c2":68.6},
{"F":2000,"kind":"e","b":0.95,"l":6,"c":13.2,"b2":0.95,"l2":-10,"c2":13.2},{"F":2000,"kind":"e","b":0.95,"l":6,"c":13.2,"b2":0.999,"l2":6,"c2":13.2},{"F":2000,"kind":"e","b":0.95,"l":-10,"c":13.2,"b2":0.95,"l2":-10,"c2":37.9},
{"F":4000,"kind":"e","b":0.95,"l":6,"c":24.1,"b2":0.95,"l2":-10,"c2":24.1},{"F":4000,"kind":"e","b":0.95,"l":6,"c":24.1,"b2":0.999,"l2":6,"c2":24.1},{"F":4000,"kind":"e","b":0.95,"l":-10,"c":24.1,"b2":0.95,"l2":-10,"c2":42},
{"F":8000,"kind":"e","b":0.95,"l":6,"c":11.7,"b2":0.95,"l2":-10,"c2":11.7},{"F":8000,"kind":"e","b":0.95,"l":6,"c":11.7,"b2":0.999,"l2":6,"c2":11.7},{"F":8000,"kind":"e","b":0.95,"l":-10,"c":11.7,"b2":0.95,"l2":-10,"c2":36.4},
{"F":1000,"kind":"g","b":0.96,"l":-10,"c":6.2,"b2":0.96,"l2":-10,"c2":68.6},{"F":1000,"kind":"g","b":0.97,"l":-10,"c":6.2,"b2":0.97,"l2":-10,"c2":68.6},{"F":1000,"kind":"g","b":0.98,"l":-10,"c":6.2,"b2":0.98,"l2":-10,"c2":68.6},{"F":1000,"kind":"g","b":0.99,"l":-10,"c":6.2,"b2":0.99,"l2":-10,"c2":68.6},{"F":1000,"kind":"g","b":0.95,"l":-10,"c":60,"b2":0.999,"l2":-10,"c2":60},{"F":1000,"kind":"g","b":0.95,"l":-10,"c":40,"b2":0.999,"l2":-10,"c2":40},{"F":1000,"kind":"g","b":0.999,"l":-6,"c":6.2,"b2":0.999,"l2":-6,"c2":68.6},{"F":1000,"kind":"g","b":0.999,"l":-3,"c":6.2,"b2":0.999,"l2":-3,"c2":68.6},{"F":1000,"kind":"g","b":0.999,"l":0,"c":6.2,"b2":0.999,"l2":0,"c2":68.6},{"F":1000,"kind":"g","b":0.999,"l":3,"c":6.2,"b2":0.999,"l2":3,"c2":68.6},{"F":1000,"kind":"g","b":0.999,"l":-10,"c":60,"b2":0.999,"l2":6,"c2":60},{"F":1000,"kind":"g","b":0.999,"l":-10,"c":40,"b2":0.999,"l2":6,"c2":40},{"F":1000,"kind":"g","b":0.999,"l":-10,"c":20,"b2":0.999,"l2":6,"c2":20},
{"F":2000,"kind":"g","b":0.96,"l":-10,"c":13.2,"b2":0.96,"l2":-10,"c2":37.9},{"F":2000,"kind":"g","b":0.97,"l":-10,"c":13.2,"b2":0.97,"l2":-10,"c2":37.9},{"F":2000,"kind":"g","b":0.98,"l":-10,"c":13.2,"b2":0.98,"l2":-10,"c2":37.9},{"F":2000,"kind":"g","b":0.99,"l":-10,"c":13.2,"b2":0.99,"l2":-10,"c2":37.9},{"F":2000,"kind":"g","b":0.95,"l":-10,"c":35,"b2":0.999,"l2":-10,"c2":35},{"F":2000,"kind":"g","b":0.999,"l":-6,"c":13.2,"b2":0.999,"l2":-6,"c2":37.9},{"F":2000,"kind":"g","b":0.999,"l":-3,"c":13.2,"b2":0.999,"l2":-3,"c2":37.9},{"F":2000,"kind":"g","b":0.999,"l":0,"c":13.2,"b2":0.999,"l2":0,"c2":37.9},{"F":2000,"kind":"g","b":0.999,"l":3,"c":13.2,"b2":0.999,"l2":3,"c2":37.9},{"F":2000,"kind":"g","b":0.999,"l":-10,"c":35,"b2":0.999,"l2":6,"c2":35},{"F":2000,"kind":"g","b":0.999,"l":-10,"c":30,"b2":0.999,"l2":6,"c2":30},{"F":2000,"kind":"g","b":0.999,"l":-10,"c":25,"b2":0.999,"l2":6,"c2":25},{"F":2000,"kind":"g","b":0.999,"l":-10,"c":20,"b2":0.999,"l2":6,"c2":20},
{"F":4000,"kind":"g","b":0.96,"l":-10,"c":24.1,"b2":0.96,"l2":-10,"c2":42},{"F":4000,"kind":"g","b":0.97,"l":-10,"c":24.1,"b2":0.97,"l2":-10,"c2":42},{"F":4000,"kind":"g","b":0.98,"l":-10,"c":24.1,"b2":0.98,"l2":-10,"c2":42},{"F":4000,"kind":"g","b":0.99,"l":-10,"c":24.1,"b2":0.99,"l2":-10,"c2":42},{"F":4000,"kind":"g","b":0.95,"l":-10,"c":40,"b2":0.999,"l2":-10,"c2":40},{"F":4000,"kind":"g","b":0.95,"l":-10,"c":35,"b2":0.999,"l2":-10,"c2":35},{"F":4000,"kind":"g","b":0.999,"l":-6,"c":24.1,"b2":0.999,"l2":-6,"c2":42},{"F":4000,"kind":"g","b":0.999,"l":-3,"c":24.1,"b2":0.999,"l2":-3,"c2":42},{"F":4000,"kind":"g","b":0.999,"l":0,"c":24.1,"b2":0.999,"l2":0,"c2":42},{"F":4000,"kind":"g","b":0.999,"l":3,"c":24.1,"b2":0.999,"l2":3,"c2":42},{"F":4000,"kind":"g","b":0.999,"l":-10,"c":40,"b2":0.999,"l2":6,"c2":40},{"F":4000,"kind":"g","b":0.999,"l":-10,"c":35,"b2":0.999,"l2":6,"c2":35},{"F":4000,"kind":"g","b":0.999,"l":-10,"c":30,"b2":0.999,"l2":6,"c2":30},
{"F":8000,"kind":"g","b":0.96,"l":-10,"c":11.7,"b2":0.96,"l2":-10,"c2":36.4},{"F":8000,"kind":"g","b":0.97,"l":-10,"c":11.7,"b2":0.97,"l2":-10,"c2":36.4},{"F":8000,"kind":"g","b":0.98,"l":-10,"c":11.7,"b2":0.98,"l2":-10,"c2":36.4},{"F":8000,"kind":"g","b":0.99,"l":-10,"c":11.7,"b2":0.99,"l2":-10,"c2":36.4},{"F":8000,"kind":"g","b":0.95,"l":-10,"c":35,"b2":0.999,"l2":-10,"c2":35},{"F":8000,"kind":"g","b":0.95,"l":-10,"c":30,"b2":0.999,"l2":-10,"c2":30},{"F":8000,"kind":"g","b":0.999,"l":-6,"c":11.7,"b2":0.999,"l2":-6,"c2":36.4},{"F":8000,"kind":"g","b":0.999,"l":-3,"c":11.7,"b2":0.999,"l2":-3,"c2":36.4},{"F":8000,"kind":"g","b":0.999,"l":0,"c":11.7,"b2":0.999,"l2":0,"c2":36.4},{"F":8000,"kind":"g","b":0.999,"l":3,"c":11.7,"b2":0.999,"l2":3,"c2":36.4},{"F":8000,"kind":"g","b":0.999,"l":-10,"c":30,"b2":0.999,"l2":6,"c2":30},{"F":8000,"kind":"g","b":0.999,"l":-10,"c":25,"b2":0.999,"l2":6,"c2":25},{"F":8000,"kind":"g","b":0.999,"l":-10,"c":20,"b2":0.999,"l2":6,"c2":20}
]},
"transform":[
{"calculate":"datum.F==1000?1.04:datum.F==4000?3.63:2.63","as":"k"},
{"calculate":"datum.F==1000?6.2:datum.F==2000?13.2:datum.F==4000?24.1:11.7","as":"z0"},
{"calculate":"79.3+100*(datum.b-0.95)/0.049-43.3*(6-datum.l)/16","as":"X"},
{"calculate":"167.3-31.7*(datum.b-0.95)/0.049-72.7*(6-datum.l)/16-datum.k*(datum.c-datum.z0)","as":"Y"},
{"calculate":"79.3+100*(datum.b2-0.95)/0.049-43.3*(6-datum.l2)/16","as":"X2"},
{"calculate":"167.3-31.7*(datum.b2-0.95)/0.049-72.7*(6-datum.l2)/16-datum.k*(datum.c2-datum.z0)","as":"Y2"},
{"window":[{"op":"lead","field":"X","as":"Xb"},{"op":"lead","field":"Y","as":"Yb"}],"sort":[{"field":"b","order":"ascending"}],"groupby":["F","kind","l"]},
{"window":[{"op":"lead","field":"X","as":"Xl"},{"op":"lead","field":"Y","as":"Yl"},{"op":"lead","field":"Xb","as":"Xd"},{"op":"lead","field":"Yb","as":"Yd"}],"sort":[{"field":"l","order":"ascending"}],"groupby":["F","kind","b"]},
{"fold":["X","Xb","Xd","Xl"],"as":["vk","vx"]},
{"calculate":"datum.vk=='X'?datum.Y:datum.vk=='Xb'?datum.Yb:datum.vk=='Xd'?datum.Yd:datum.Yl","as":"vy"},
{"calculate":"indexof(['X','Xb','Xd','Xl'],datum.vk)","as":"vi"},
{"calculate":"datum.b+'/'+datum.l","as":"id"},
{"calculate":"datum.kind?(datum.vk=='X'?datum.kind:'x'):(datum.Xd==null?'x':'s')","as":"s"}
],
"vconcat":[
{"hconcat":[
{"width":197,"height":167,"title":{"text":"F = 1000 Hz","dx":9.5},"transform":[{"filter":"datum.F==1000"}],"encoding":{"x":{"field":"vx","type":"quantitative","axis":null,"scale":{"domain":[0,197],"nice":false,"zero":false}},"y":{"field":"vy","type":"quantitative","axis":null,"scale":{"domain":[0,167],"reverse":true,"nice":false,"zero":false}}},"layer":[
{"transform":[{"filter":"datum.s=='g'"}],"mark":{"type":"rule","stroke":"#ddd","strokeWidth":0.4,"strokeDash":[1,1.5]},"encoding":{"x2":{"field":"X2"},"y2":{"field":"Y2"}}},
{"transform":[{"filter":"datum.s=='e'"}],"mark":{"type":"rule","stroke":"#777","strokeWidth":0.4},"encoding":{"x2":{"field":"X2"},"y2":{"field":"Y2"}}},
{"transform":[{"filter":"datum.s=='s'"}],"mark":{"type":"line","stroke":"#111","strokeWidth":0.3},"encoding":{"fill":{"field":"e","type":"quantitative","scale":{"domain":[-5,10]},"legend":null},"detail":{"field":"id"},"order":{"field":"vi"}}},
{"transform":[{"filter":"datum.s=='d'"}],"mark":{"type":"circle","color":"#f00","opacity":1,"size":16}},
{"transform":[{"filter":"datum.s=='b'"}],"mark":{"type":"text","dx":8,"dy":8},"encoding":{"text":{"field":"t"}}},
{"transform":[{"filter":"datum.s=='l'"}],"mark":{"type":"text","dx":-16,"dy":-1},"encoding":{"text":{"field":"t"}}},
{"transform":[{"filter":"datum.s=='z'"}],"mark":{"type":"text","dx":-3,"align":"right"},"encoding":{"text":{"field":"t"}}},
{"transform":[{"filter":"datum.s=='tc'"}],"mark":{"type":"text","angle":-90,"dy":-19,"font":"Liberation Serif","fontSize":7.5,"fill":"#555"},"encoding":{"text":{"field":"t"}}},
{"transform":[{"filter":"datum.s=='tl'"}],"mark":{"type":"text","dx":-35,"dy":-3,"font":"Liberation Serif","fontStyle":"italic","fontSize":7.5,"fill":"#555"},"encoding":{"text":{"field":"t"}}},
{"transform":[{"filter":"datum.s=='tb'"}],"mark":{"type":"text","dx":-2,"dy":22,"font":"Liberation Serif","fontStyle":"italic","fontSize":7.5,"fill":"#555"},"encoding":{"text":{"field":"t"}}}
]},
{"width":10.5,"height":167,"data":{"values":[{"lo":-5,"hi":10}]},"mark":{"type":"rect","stroke":"#aaa","strokeWidth":0.6,"fill":{"gradient":"linear","x1":0,"y1":1,"x2":0,"y2":0,"stops":[{"offset":0,"color":"#352a87"},{"offset":0.133,"color":"#3c50e0"},{"offset":0.267,"color":"#2a7ae8"},{"offset":0.333,"color":"#2088d8"},{"offset":0.467,"color":"#0cb0c4"},{"offset":0.6,"color":"#40bf80"},{"offset":0.667,"color":"#6cc060"},{"offset":0.733,"color":"#a4bc3c"},{"offset":0.8,"color":"#d2b030"},{"offset":0.867,"color":"#f0a838"},{"offset":0.933,"color":"#f4d020"},{"offset":1,"color":"#f8f810"}]}},"encoding":{"y":{"field":"lo","type":"quantitative","scale":{"domain":[-5,10],"nice":false,"zero":false},"axis":{"orient":"right","values":[-5,0,5,10],"title":"Effort [dB]"}},"y2":{"field":"hi"}}},
{"width":230,"height":167,"title":{"text":"F = 2000 Hz","dx":25.5},"transform":[{"filter":"datum.F==2000"}],"encoding":{"x":{"field":"vx","type":"quantitative","axis":null,"scale":{"domain":[-33.5,196.5],"nice":false,"zero":false}},"y":{"field":"vy","type":"quantitative","axis":null,"scale":{"domain":[0,167],"reverse":true,"nice":false,"zero":false}}},"layer":[
{"transform":[{"filter":"datum.s=='g'"}],"mark":{"type":"rule","stroke":"#ddd","strokeWidth":0.4,"strokeDash":[1,1.5]},"encoding":{"x2":{"field":"X2"},"y2":{"field":"Y2"}}},
{"transform":[{"filter":"datum.s=='e'"}],"mark":{"type":"rule","stroke":"#777","strokeWidth":0.4},"encoding":{"x2":{"field":"X2"},"y2":{"field":"Y2"}}},
{"transform":[{"filter":"datum.s=='s'"}],"mark":{"type":"line","stroke":"#111","strokeWidth":0.3},"encoding":{"fill":{"field":"e","type":"quantitative","scale":{"domain":[-5,10]},"legend":null},"detail":{"field":"id"},"order":{"field":"vi"}}},
{"transform":[{"filter":"datum.s=='d'"}],"mark":{"type":"circle","color":"#f00","opacity":1,"size":9}},
{"transform":[{"filter":"datum.s=='b'"}],"mark":{"type":"text","dx":8,"dy":8},"encoding":{"text":{"field":"t"}}},
{"transform":[{"filter":"datum.s=='l'"}],"mark":{"type":"text","dx":-16,"dy":-1},"encoding":{"text":{"field":"t"}}},
{"transform":[{"filter":"datum.s=='z'"}],"mark":{"type":"text","dx":-3,"align":"right"},"encoding":{"text":{"field":"t"}}},
{"transform":[{"filter":"datum.s=='tc'"}],"mark":{"type":"text","angle":-90,"dy":-19,"font":"Liberation Serif","fontSize":7.5,"fill":"#555"},"encoding":{"text":{"field":"t"}}},
{"transform":[{"filter":"datum.s=='tl'"}],"mark":{"type":"text","dx":-35,"dy":-3,"font":"Liberation Serif","fontStyle":"italic","fontSize":7.5,"fill":"#555"},"encoding":{"text":{"field":"t"}}},
{"transform":[{"filter":"datum.s=='tb'"}],"mark":{"type":"text","dx":-2,"dy":22,"font":"Liberation Serif","fontStyle":"italic","fontSize":7.5,"fill":"#555"},"encoding":{"text":{"field":"t"}}}
]},
{"width":10.5,"height":167,"data":{"values":[{"lo":-5,"hi":10}]},"mark":{"type":"rect","stroke":"#aaa","strokeWidth":0.6,"fill":{"gradient":"linear","x1":0,"y1":1,"x2":0,"y2":0,"stops":[{"offset":0,"color":"#352a87"},{"offset":0.133,"color":"#3c50e0"},{"offset":0.267,"color":"#2a7ae8"},{"offset":0.333,"color":"#2088d8"},{"offset":0.467,"color":"#0cb0c4"},{"offset":0.6,"color":"#40bf80"},{"offset":0.667,"color":"#6cc060"},{"offset":0.733,"color":"#a4bc3c"},{"offset":0.8,"color":"#d2b030"},{"offset":0.867,"color":"#f0a838"},{"offset":0.933,"color":"#f4d020"},{"offset":1,"color":"#f8f810"}]}},"encoding":{"y":{"field":"lo","type":"quantitative","scale":{"domain":[-5,10],"nice":false,"zero":false},"axis":{"orient":"right","values":[-5,0,5,10],"title":"Effort [dB]"}},"y2":{"field":"hi"}}}
],"spacing":0,"bounds":"flush"},
{"hconcat":[
{"width":197,"height":167,"title":{"text":"F = 4000 Hz","dx":9.5},"transform":[{"filter":"datum.F==4000"}],"encoding":{"x":{"field":"vx","type":"quantitative","axis":null,"scale":{"domain":[0,197],"nice":false,"zero":false}},"y":{"field":"vy","type":"quantitative","axis":null,"scale":{"domain":[0,167],"reverse":true,"nice":false,"zero":false}}},"layer":[
{"transform":[{"filter":"datum.s=='g'"}],"mark":{"type":"rule","stroke":"#ddd","strokeWidth":0.4,"strokeDash":[1,1.5]},"encoding":{"x2":{"field":"X2"},"y2":{"field":"Y2"}}},
{"transform":[{"filter":"datum.s=='e'"}],"mark":{"type":"rule","stroke":"#777","strokeWidth":0.4},"encoding":{"x2":{"field":"X2"},"y2":{"field":"Y2"}}},
{"transform":[{"filter":"datum.s=='s'"}],"mark":{"type":"line","stroke":"#111","strokeWidth":0.3},"encoding":{"fill":{"field":"e","type":"quantitative","scale":{"domain":[-5,10]},"legend":null},"detail":{"field":"id"},"order":{"field":"vi"}}},
{"transform":[{"filter":"datum.s=='d'"}],"mark":{"type":"circle","color":"#f00","opacity":1,"size":28}},
{"transform":[{"filter":"datum.s=='b'"}],"mark":{"type":"text","dx":8,"dy":8},"encoding":{"text":{"field":"t"}}},
{"transform":[{"filter":"datum.s=='l'"}],"mark":{"type":"text","dx":-16,"dy":-1},"encoding":{"text":{"field":"t"}}},
{"transform":[{"filter":"datum.s=='z'"}],"mark":{"type":"text","dx":-3,"align":"right"},"encoding":{"text":{"field":"t"}}},
{"transform":[{"filter":"datum.s=='tc'"}],"mark":{"type":"text","angle":-90,"dy":-19,"font":"Liberation Serif","fontSize":7.5,"fill":"#555"},"encoding":{"text":{"field":"t"}}},
{"transform":[{"filter":"datum.s=='tl'"}],"mark":{"type":"text","dx":-35,"dy":-3,"font":"Liberation Serif","fontStyle":"italic","fontSize":7.5,"fill":"#555"},"encoding":{"text":{"field":"t"}}},
{"transform":[{"filter":"datum.s=='tb'"}],"mark":{"type":"text","dx":-2,"dy":22,"font":"Liberation Serif","fontStyle":"italic","fontSize":7.5,"fill":"#555"},"encoding":{"text":{"field":"t"}}}
]},
{"width":10.5,"height":167,"data":{"values":[{"lo":-5,"hi":10}]},"mark":{"type":"rect","stroke":"#aaa","strokeWidth":0.6,"fill":{"gradient":"linear","x1":0,"y1":1,"x2":0,"y2":0,"stops":[{"offset":0,"color":"#352a87"},{"offset":0.133,"color":"#3c50e0"},{"offset":0.267,"color":"#2a7ae8"},{"offset":0.333,"color":"#2088d8"},{"offset":0.467,"color":"#0cb0c4"},{"offset":0.6,"color":"#40bf80"},{"offset":0.667,"color":"#6cc060"},{"offset":0.733,"color":"#a4bc3c"},{"offset":0.8,"color":"#d2b030"},{"offset":0.867,"color":"#f0a838"},{"offset":0.933,"color":"#f4d020"},{"offset":1,"color":"#f8f810"}]}},"encoding":{"y":{"field":"lo","type":"quantitative","scale":{"domain":[-5,10],"nice":false,"zero":false},"axis":{"orient":"right","values":[-5,0,5,10],"title":"Effort [dB]"}},"y2":{"field":"hi"}}},
{"width":230,"height":167,"title":{"text":"F = 8000 Hz","dx":25.5},"transform":[{"filter":"datum.F==8000"}],"encoding":{"x":{"field":"vx","type":"quantitative","axis":null,"scale":{"domain":[-33.5,196.5],"nice":false,"zero":false}},"y":{"field":"vy","type":"quantitative","axis":null,"scale":{"domain":[0,167],"reverse":true,"nice":false,"zero":false}}},"layer":[
{"transform":[{"filter":"datum.s=='g'"}],"mark":{"type":"rule","stroke":"#ddd","strokeWidth":0.4,"strokeDash":[1,1.5]},"encoding":{"x2":{"field":"X2"},"y2":{"field":"Y2"}}},
{"transform":[{"filter":"datum.s=='e'"}],"mark":{"type":"rule","stroke":"#777","strokeWidth":0.4},"encoding":{"x2":{"field":"X2"},"y2":{"field":"Y2"}}},
{"transform":[{"filter":"datum.s=='s'"}],"mark":{"type":"line","stroke":"#111","strokeWidth":0.3},"encoding":{"fill":{"field":"e","type":"quantitative","scale":{"domain":[-5,10]},"legend":null},"detail":{"field":"id"},"order":{"field":"vi"}}},
{"transform":[{"filter":"datum.s=='d'"}],"mark":{"type":"circle","color":"#f00","opacity":1,"size":9}},
{"transform":[{"filter":"datum.s=='b'"}],"mark":{"type":"text","dx":8,"dy":8},"encoding":{"text":{"field":"t"}}},
{"transform":[{"filter":"datum.s=='l'"}],"mark":{"type":"text","dx":-16,"dy":-1},"encoding":{"text":{"field":"t"}}},
{"transform":[{"filter":"datum.s=='z'"}],"mark":{"type":"text","dx":-3,"align":"right"},"encoding":{"text":{"field":"t"}}},
{"transform":[{"filter":"datum.s=='tc'"}],"mark":{"type":"text","angle":-90,"dy":-19,"font":"Liberation Serif","fontSize":7.5,"fill":"#555"},"encoding":{"text":{"field":"t"}}},
{"transform":[{"filter":"datum.s=='tl'"}],"mark":{"type":"text","dx":-35,"dy":-3,"font":"Liberation Serif","fontStyle":"italic","fontSize":7.5,"fill":"#555"},"encoding":{"text":{"field":"t"}}},
{"transform":[{"filter":"datum.s=='tb'"}],"mark":{"type":"text","dx":-2,"dy":22,"font":"Liberation Serif","fontStyle":"italic","fontSize":7.5,"fill":"#555"},"encoding":{"text":{"field":"t"}}}
]},
{"width":10.5,"height":167,"data":{"values":[{"lo":-5,"hi":10}]},"mark":{"type":"rect","stroke":"#aaa","strokeWidth":0.6,"fill":{"gradient":"linear","x1":0,"y1":1,"x2":0,"y2":0,"stops":[{"offset":0,"color":"#352a87"},{"offset":0.133,"color":"#3c50e0"},{"offset":0.267,"color":"#2a7ae8"},{"offset":0.333,"color":"#2088d8"},{"offset":0.467,"color":"#0cb0c4"},{"offset":0.6,"color":"#40bf80"},{"offset":0.667,"color":"#6cc060"},{"offset":0.733,"color":"#a4bc3c"},{"offset":0.8,"color":"#d2b030"},{"offset":0.867,"color":"#f0a838"},{"offset":0.933,"color":"#f4d020"},{"offset":1,"color":"#f8f810"}]}},"encoding":{"y":{"field":"lo","type":"quantitative","scale":{"domain":[-5,10],"nice":false,"zero":false},"axis":{"orient":"right","values":[-5,0,5,10],"title":"Effort [dB]"}},"y2":{"field":"hi"}}}
],"spacing":0,"bounds":"flush"}
],"spacing":232,"bounds":"flush"}
